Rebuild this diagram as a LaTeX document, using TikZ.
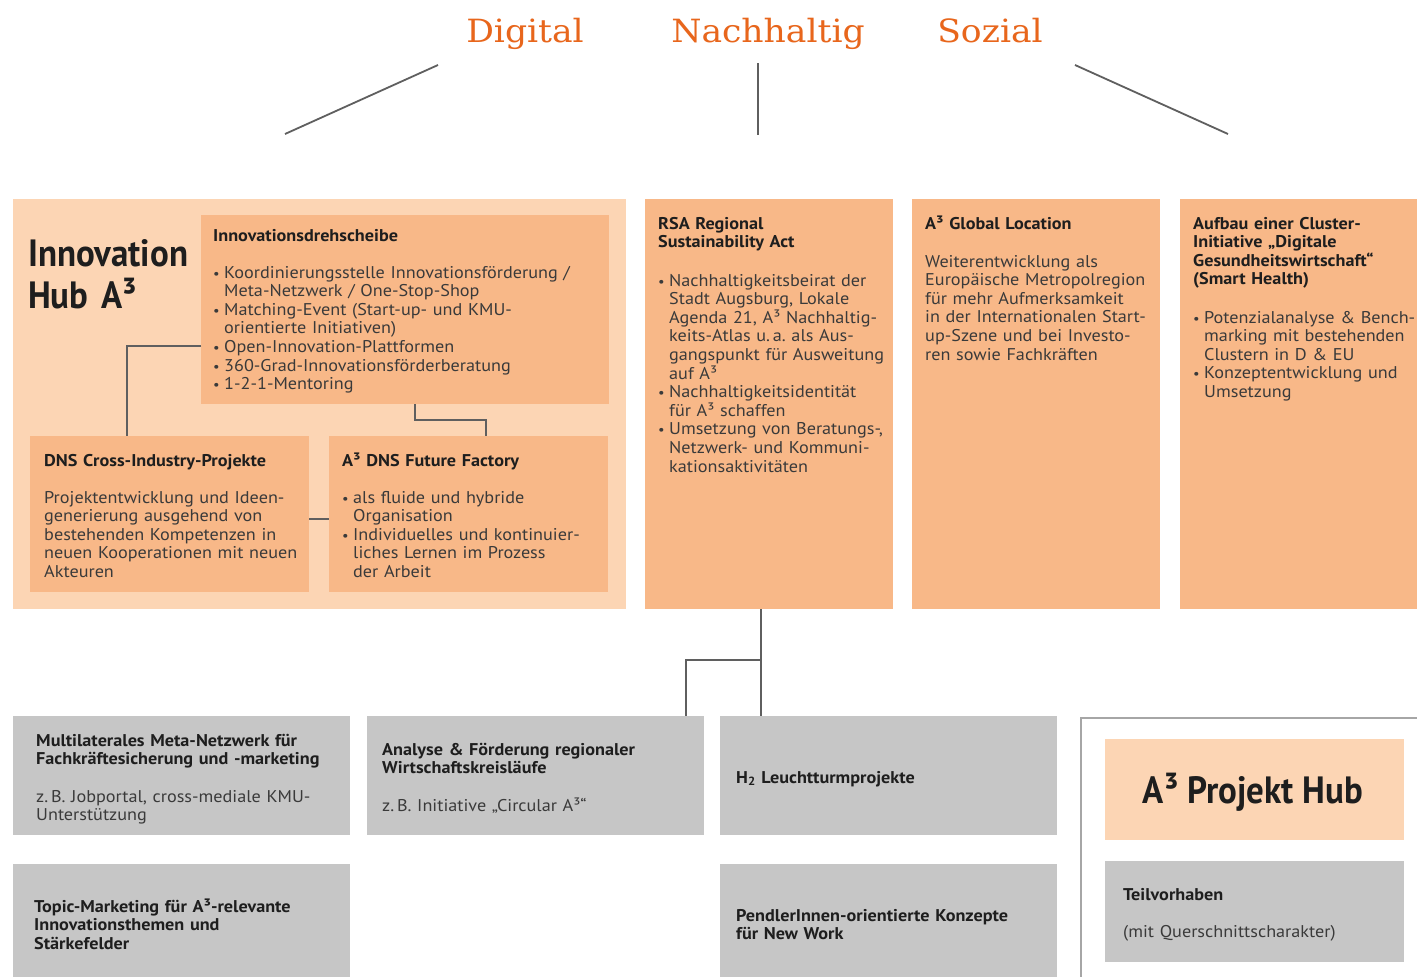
\documentclass[tikz,border=0pt]{standalone}
\usepackage{fontspec}
\setmainfont{PT Sans}[FakeStretch=1.07]
\newfontfamily\condfont{PT Sans}[FakeStretch=0.92]
\newfontfamily\slabfont{DejaVu Serif}[FakeStretch=1.08]
\frenchspacing
\definecolor{peachL}{HTML}{FCD5B4}
\definecolor{peachD}{HTML}{F8B888}
\definecolor{boxgray}{HTML}{C6C6C6}
\definecolor{lineg}{HTML}{5F5F5F}
\definecolor{outlineg}{HTML}{A6A6A6}
\definecolor{titleor}{HTML}{E8661C}
\definecolor{txtdark}{HTML}{1E1E1E}
\definecolor{txtbody}{HTML}{3A3A3A}
\newlength\bulind
\setlength\bulind{11pt}
\newcommand\bodyfont{\fontsize{17}{18.6}\selectfont}
\newcommand\headfont{\bfseries\fontsize{17}{18.6}\selectfont}
\newcommand\bul[1]{\noindent\hangindent=\bulind\hangafter=1\makebox[\bulind][l]{\scalebox{0.8}{\textbullet}}{\let\\\newline#1}\par}
\tikzset{
  hubbg/.style={fill=peachL, draw=none, anchor=north west, inner sep=0},
  obox/.style={fill=peachD, draw=none, anchor=north west, inner sep=0},
  gbox/.style={fill=boxgray, draw=none, anchor=north west, inner sep=0},
  conn/.style={draw=lineg, line width=1.6pt},
  topline/.style={draw=lineg, line width=1.8pt},
  frameline/.style={draw=outlineg, line width=1.6pt},
  headtxt/.style={anchor=base west, inner sep=0, align=left, text width=400pt, font=\headfont, text=txtdark},
  bodytxt/.style={anchor=base west, inner sep=0, align=left, text width=400pt, font=\bodyfont, text=txtbody},
  titletxt/.style={anchor=base, inner sep=0, font=\slabfont\fontsize{32}{36}\selectfont, text=titleor},
  bigtxt/.style={inner sep=0, align=left, text width=300pt, font=\condfont\bfseries\fontsize{38}{42}\selectfont, text=txtdark},
}
\begin{document}
\begin{tikzpicture}[x=1pt,y=-1pt]
\useasboundingbox[fill=white] (0,0) rectangle (1417,977);

% top titles
\node[titletxt] (tdig) at (525,42) {Digital};
\node[titletxt] (tnach) at (768,42) {Nachhaltig};
\node[titletxt] (tsoz) at (990,42) {Sozial};
\coordinate (d1) at (438,65); \coordinate (d2) at (285,134);
\coordinate (n1) at (758,63); \coordinate (n2) at (758,135);
\coordinate (s1) at (1075,65); \coordinate (s2) at (1228,134);
\draw[topline] (d1) -- (d2);
\draw[topline] (n1) -- (n2);
\draw[topline] (s1) -- (s2);

% Innovation Hub block
\node[hubbg, minimum width=613pt, minimum height=410pt] (hub) at (13,199) {};
\node[obox, minimum width=408pt, minimum height=189pt] (dreh) at (201,215) {};
\node[obox, minimum width=279pt, minimum height=156pt] (dns) at (30,436) {};
\node[obox, minimum width=279pt, minimum height=156pt] (fut) at (329,436) {};

\node[bigtxt, anchor=base west] (hubtitle) at (28,266) {Innovation\\Hub A³};

\coordinate (c1) at (127,346);
\draw[conn] (dreh.west |- c1) -- (c1) -- (c1 |- dns.north);
\coordinate (c2) at (415,420);
\coordinate (c3) at (486,420);
\draw[conn] (c2 |- dreh.south) -- (c2) -- (c3) -- (c3 |- fut.north);
\coordinate (c4) at (319,519);
\draw[conn] (dns.east |- c4) -- (fut.west |- c4);

\node[headtxt] (drehh) at (213,241) {Innovationsdrehscheibe};
\node[bodytxt] (drehb) at (213,278) {%
\bul{Koordinierungsstelle Innovationsförderung /\\Meta-Netzwerk / One-Stop-Shop}%
\bul{Matching-Event (Start-up- und KMU-\\orientierte Initiativen)}%
\bul{Open-Innovation-Plattformen}%
\bul{360-Grad-Innovationsförderberatung}%
\bul{1-2-1-Mentoring}};

\node[headtxt] (dnsh) at (44,466) {DNS Cross-Industry-Projekte};
\node[bodytxt] (dnsb) at (44,503) {Projektentwicklung und Ideen-\\generierung ausgehend von\\bestehenden Kompetenzen in\\neuen Kooperationen mit neuen\\Akteuren};

\node[headtxt] (futh) at (342,466) {A³ DNS Future Factory};
\node[bodytxt] (futb) at (342,503) {%
\bul{als fluide und hybride\\Organisation}%
\bul{Individuelles und kontinuier-\\liches Lernen im Prozess\\der Arbeit}};

% three columns
\node[obox, minimum width=248pt, minimum height=410pt] (rsa) at (645,199) {};
\node[obox, minimum width=248pt, minimum height=410pt] (glob) at (912,199) {};
\node[obox, minimum width=237pt, minimum height=410pt] (aufb) at (1180,199) {};

\node[headtxt] (rsah) at (658,229) {RSA Regional\\Sustainability Act};
\node[bodytxt] (rsab) at (658,286) {%
\bul{Nachhaltigkeitsbeirat der\\Stadt Augsburg, Lokale\\Agenda 21, A³ Nachhaltig-\\keits-Atlas u.\,a. als Aus-\\gangspunkt für Ausweitung\\auf A³}%
\bul{Nachhaltigkeitsidentität\\für A³ schaffen}%
\bul{Umsetzung von Beratungs-,\\Netzwerk- und Kommuni-\\kationsaktivitäten}};

\node[headtxt] (globh) at (925,229) {A³ Global Location};
\node[bodytxt] (globb) at (925,267) {Weiterentwicklung als\\Europäische Metropolregion\\für mehr Aufmerksamkeit\\in der Internationalen Start-\\up-Szene und bei Investo-\\ren sowie Fachkräften};

\node[headtxt] (aufbh) at (1193,229) {Aufbau einer Cluster-\\Initiative „Digitale\\Gesundheitswirtschaft“\\(Smart Health)};
\node[bodytxt] (aufbb) at (1193,323) {%
\bul{Potenzialanalyse \& Bench-\\marking mit bestehenden\\Clustern in D \& EU}%
\bul{Konzeptentwicklung und\\Umsetzung}};

% bottom gray boxes
\node[gbox, minimum width=337pt, minimum height=119pt] (multi) at (13,716) {};
\node[gbox, minimum width=337pt, minimum height=119pt] (anal) at (367,716) {};
\node[gbox, minimum width=337pt, minimum height=119pt] (htwo) at (720,716) {};
\node[gbox, minimum width=337pt, minimum height=113pt] (topic) at (13,864) {};
\node[gbox, minimum width=337pt, minimum height=113pt] (pendl) at (720,864) {};

\coordinate (b1) at (761,660);
\coordinate (b2) at (686,660);
\draw[conn] (b1 |- rsa.south) -- (b1 |- htwo.north);
\draw[conn] (b1) -- (b2) -- (b2 |- anal.north);

\node[headtxt] (multih) at (36,746) {Multilaterales Meta-Netzwerk für\\Fachkräftesicherung und -marketing};
\node[bodytxt] (multib) at (36,802) {z.\,B. Jobportal, cross-mediale KMU-\\Unterstützung};
\node[headtxt] (analh) at (382,755) {Analyse \& Förderung regionaler\\Wirtschaftskreisläufe};
\node[bodytxt] (analb) at (382,811) {z.\,B. Initiative „Circular A³“};
\node[headtxt] (htwoh) at (736,783) {H\textsubscript{2} Leuchtturmprojekte};
\node[headtxt] (topich) at (34,912) {Topic-Marketing für A³-relevante\\Innovationsthemen und\\Stärkefelder};
\node[headtxt] (pendlh) at (736,921) {PendlerInnen-orientierte Konzepte\\für New Work};

% Projekt Hub frame
\coordinate (f1) at (1081,718);
\coordinate (f2) at (1417,718);
\coordinate (f3) at (1081,977);
\draw[frameline] (f2) -- (f1) -- (f3);
\node[hubbg, minimum width=299pt, minimum height=101pt] (phub) at (1105,739) {};
\node[anchor=base, inner sep=0, font=\condfont\bfseries\fontsize{38}{42}\selectfont, text=txtdark] (phubt) at (1253,803) {A³ Projekt Hub};
\node[gbox, minimum width=299pt, minimum height=101pt] (teil) at (1105,861) {};
\node[headtxt] (teilh) at (1123,900) {Teilvorhaben};
\node[bodytxt] (teilb) at (1123,937) {(mit Querschnittscharakter)};
\end{tikzpicture}
\end{document}
